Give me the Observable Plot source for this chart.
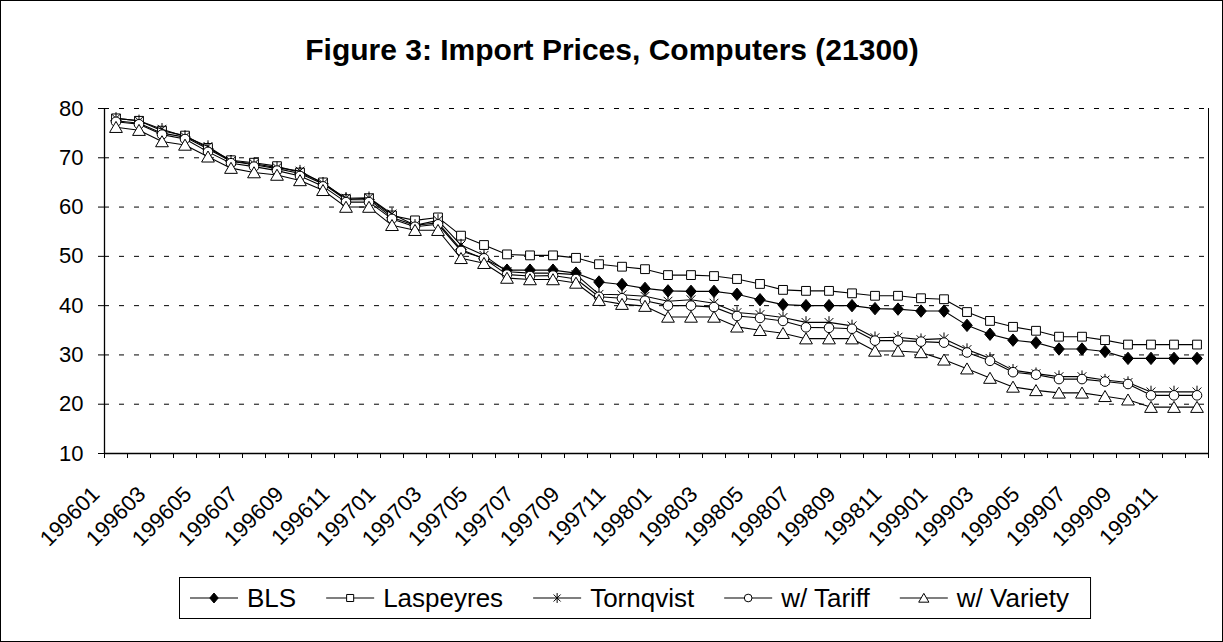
<!DOCTYPE html>
<html>
<head>
<meta charset="utf-8">
<script src="https://cdn.jsdelivr.net/npm/d3@7"></script>
<script src="https://cdn.jsdelivr.net/npm/@observablehq/plot@0.6"></script>
<style>
  body { margin: 0; background: #fff; }
  #wrap { position: relative; width: 1223px; height: 642px; overflow: hidden; font-family: Arial, "Liberation Sans", sans-serif; }
  #chart, #overlay { position: absolute; left: 0; top: 0; }
  #overlay { pointer-events: none; }
</style>
</head>
<body>
<div id="wrap">
  <div id="chart"></div>
  <svg id="overlay" width="1223" height="642"></svg>
</div>
<script>
// ---- data ----
const titleText = "Figure 3: Import Prices, Computers (21300)";
const months = [
  "199601","199602","199603","199604","199605","199606","199607","199608","199609","199610","199611","199612",
  "199701","199702","199703","199704","199705","199706","199707","199708","199709","199710","199711","199712",
  "199801","199802","199803","199804","199805","199806","199807","199808","199809","199810","199811","199812",
  "199901","199902","199903","199904","199905","199906","199907","199908","199909","199910","199911","199912"
];
const seriesNames = ["BLS", "Laspeyres", "Tornqvist", "w/ Tariff", "w/ Variety"];
const bls = [
  77.5, 77.0, 75.0, 74.2, 71.8, 69.3, 68.6, 67.8, 66.8, 64.7, 61.5, 61.5,
  57.9, 56.3, 56.8, 51.4, 49.5, 47.2, 47.2, 47.2, 46.6, 44.8, 44.3, 43.5,
  43.0, 42.9, 42.9, 42.3, 41.2, 40.2, 40.0, 40.0, 40.0, 39.4, 39.3, 38.9,
  38.9, 36.0, 34.2, 33.0, 32.5, 31.2, 31.2, 30.7, 29.3, 29.3, 29.3, 29.3
];
const laspeyres = [
  78.0, 77.5, 75.5, 74.5, 72.0, 69.5, 69.0, 68.3, 67.0, 65.0, 61.6, 61.8,
  58.3, 57.3, 57.9, 54.2, 52.3, 50.4, 50.2, 50.2, 49.7, 48.4, 47.9, 47.4,
  46.2, 46.2, 46.0, 45.4, 44.4, 43.2, 43.0, 43.0, 42.5, 42.0, 42.0, 41.5,
  41.3, 38.7, 36.9, 35.7, 34.9, 33.7, 33.7, 33.0, 32.1, 32.1, 32.1, 32.1
];
const tornqvist = [
  78.0, 77.5, 75.8, 74.3, 72.3, 69.3, 68.8, 68.0, 67.3, 64.8, 61.8, 61.9,
  58.6, 56.3, 57.3, 52.3, 50.2, 46.9, 46.6, 46.6, 46.3, 42.3, 42.2, 41.9,
  40.9, 41.2, 40.5, 38.6, 38.2, 37.6, 36.6, 36.6, 35.9, 33.5, 33.6, 33.1,
  33.3, 31.1, 29.3, 26.9, 26.2, 25.6, 25.6, 24.9, 24.4, 22.5, 22.5, 22.5
];
const tariff = [
  77.3, 76.8, 74.7, 73.8, 71.2, 68.9, 68.2, 67.4, 66.3, 64.2, 61.0, 61.0,
  57.6, 56.0, 56.5, 51.1, 49.6, 46.3, 46.0, 46.1, 45.4, 41.8, 41.5, 41.0,
  40.0, 40.0, 39.7, 37.9, 37.5, 36.9, 35.6, 35.5, 35.3, 32.9, 32.9, 32.7,
  32.5, 30.5, 28.8, 26.5, 26.0, 25.1, 25.1, 24.6, 24.1, 21.8, 21.8, 21.8
];
const variety = [
  76.2, 75.6, 73.3, 72.6, 70.2, 67.9, 67.0, 66.5, 65.4, 63.4, 60.0, 60.0,
  56.3, 55.3, 55.3, 49.6, 48.6, 45.6, 45.3, 45.3, 44.6, 41.1, 40.3, 39.9,
  37.7, 37.7, 37.7, 35.7, 35.0, 34.4, 33.3, 33.3, 33.3, 30.8, 30.8, 30.5,
  29.0, 27.2, 25.3, 23.5, 22.8, 22.3, 22.3, 21.6, 20.9, 19.4, 19.4, 19.4
];
const yTicks = [10, 20, 30, 40, 50, 60, 70, 80];
const gridTicks = [20, 30, 40, 50, 60, 70, 80];

// ---- Excel-like marker shapes ----
const rOf = s => Math.sqrt(s / Math.PI);
const symDiamond = {draw(c, s) { const r = rOf(s); c.moveTo(0, -r); c.lineTo(r * 0.85, 0); c.lineTo(0, r); c.lineTo(-r * 0.85, 0); c.closePath(); }};
const symSquare = {draw(c, s) { const r = rOf(s); c.moveTo(-r, -r); c.lineTo(r, -r); c.lineTo(r, r); c.lineTo(-r, r); c.closePath(); }};
const symStar = {draw(c, s) { const r = rOf(s), d = r * Math.SQRT1_2; c.moveTo(0, -r); c.lineTo(0, r); c.moveTo(-d, -d); c.lineTo(d, d); c.moveTo(-d, d); c.lineTo(d, -d); }};
const symCircle = {draw(c, s) { const r = rOf(s); c.moveTo(r, 0); c.arc(0, 0, r, 0, 2 * Math.PI); }};
const symTriangle = {draw(c, s) { const r = rOf(s); c.moveTo(0, -r); c.lineTo(r * 1.1, r * 0.9); c.lineTo(-r * 1.1, r * 0.9); c.closePath(); }};

const seriesValues = [bls, laspeyres, tornqvist, tariff, variety];
const seriesStyle = [
  {symbol: symDiamond, r: 6.2, fill: "#000"},
  {symbol: symSquare, r: 4.4, fill: "#fff"},
  {symbol: symStar, r: 6.2, fill: "none"},
  {symbol: symCircle, r: 4.8, fill: "#fff"},
  {symbol: symTriangle, r: 5.8, fill: "#fff"}
];

const seriesMarks = seriesNames.flatMap((name, k) => {
  const rows = seriesValues[k].map((v, i) => ({month: months[i], idx: i + 0.5, value: v, series: name}));
  const st = seriesStyle[k];
  return [
    Plot.line(rows, {x: "idx", y: "value", stroke: "#000", strokeWidth: 1.1}),
    Plot.dot(rows, {x: "idx", y: "value", symbol: st.symbol, r: st.r, fill: st.fill, stroke: "#000", strokeWidth: 1})
  ];
});

const boundaryTicks = months.map((m, i) => i).concat([months.length]);
const labelTicks = months.map((m, i) => i + 0.5).filter((v, i) => i % 2 === 0);

const chart = Plot.plot({
  width: 1223,
  height: 642,
  marginLeft: 104,
  marginRight: 15,
  marginTop: 108,
  marginBottom: 189,
  style: {fontFamily: "Arial, 'Liberation Sans', sans-serif", fontSize: "22px", color: "#000", background: "transparent"},
  x: {type: "linear", domain: [0, months.length]},
  y: {domain: [10, 80]},
  marks: [
    Plot.ruleY(gridTicks, {stroke: "#000", strokeDasharray: "5,10", strokeWidth: 1}),
    Plot.ruleX([0], {stroke: "#000", strokeWidth: 1.3}),
    Plot.ruleX([months.length], {stroke: "#000", strokeWidth: 1}),
    Plot.ruleY([10], {stroke: "#000", strokeWidth: 1.3}),
    Plot.axisY(yTicks, {tickSize: 6, tickPadding: 15, label: null, fontSize: 22}),
    Plot.axisX(boundaryTicks, {tickSize: 5, tickFormat: () => "", label: null}),
    Plot.axisX(labelTicks, {tickSize: 0, tickRotate: -45, tickPadding: 37, dx: -20, label: null, fontSize: 22,
      tickFormat: d => months[Math.floor(d)]}),
    ...seriesMarks
  ]
});
document.getElementById("chart").appendChild(chart);

// ---- title, legend, frame ----
const ov = d3.select("#overlay");
ov.append("rect").attr("x", 0.5).attr("y", 0.5).attr("width", 1222).attr("height", 641)
  .attr("fill", "none").attr("stroke", "#000");
ov.append("text").attr("x", 612).attr("y", 60).attr("text-anchor", "middle")
  .attr("font-family", "Arial, 'Liberation Sans', sans-serif").attr("font-size", 30).attr("font-weight", "bold")
  .attr("fill", "#000").text(titleText);

const legLeft = 179, legTop = 577, legH = 41, lineY = 598;
const box = ov.append("rect").attr("y", legTop + 0.5).attr("x", legLeft + 0.5).attr("height", legH)
  .attr("fill", "#fff").attr("stroke", "#000");
let xPos = legLeft + 11;
seriesNames.forEach((name, k) => {
  const st = seriesStyle[k];
  ov.append("line").attr("x1", xPos).attr("x2", xPos + 48).attr("y1", lineY).attr("y2", lineY)
    .attr("stroke", "#000").attr("stroke-width", 1.1);
  ov.append("path").attr("transform", `translate(${xPos + 24},${lineY})`)
    .attr("d", d3.symbol().type(st.symbol).size(Math.PI * (st.r * 0.8) ** 2)())
    .attr("fill", st.fill).attr("stroke", "#000").attr("stroke-width", 1);
  const t = ov.append("text").attr("x", xPos + 57).attr("y", 607)
    .attr("font-family", "Arial, 'Liberation Sans', sans-serif").attr("font-size", 26).attr("fill", "#000").text(name);
  xPos = xPos + 57 + t.node().getComputedTextLength() + 30;
});
box.attr("width", xPos - 30 + 21 - legLeft);
</script>
</body>
</html>
